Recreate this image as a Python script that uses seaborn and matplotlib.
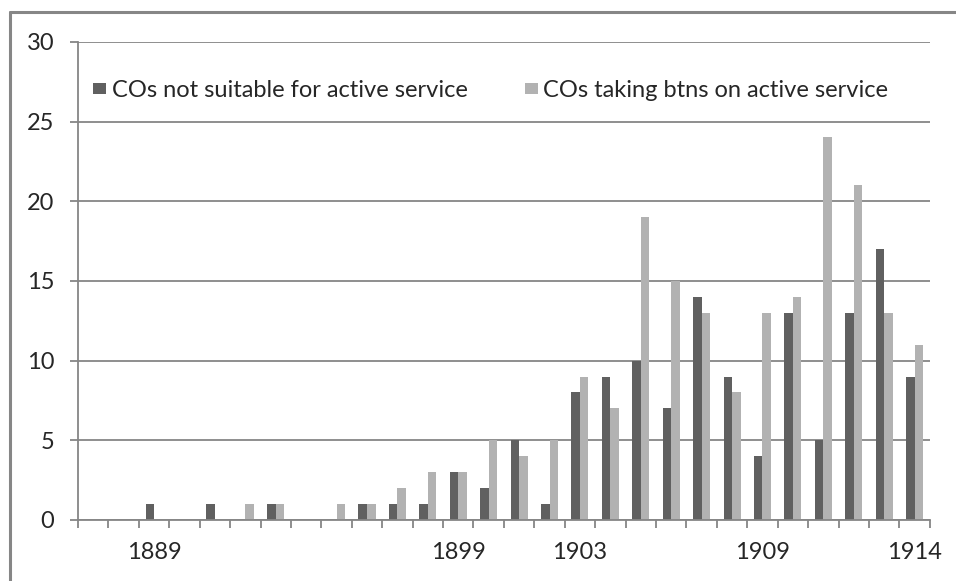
import pandas as pd
import seaborn as sns
import matplotlib.pyplot as plt
from matplotlib.lines import Line2D

years = list(range(1887, 1915))
not_suitable = [0, 0, 1, 0, 1, 0, 1, 0, 0, 1, 1, 1, 3, 2, 5, 1,
                8, 9, 10, 7, 14, 9, 4, 13, 5, 13, 17, 9]
taking_btns = [0, 0, 0, 0, 0, 1, 1, 0, 1, 1, 2, 3, 3, 5, 4, 5,
               9, 7, 19, 15, 13, 8, 13, 14, 24, 21, 13, 11]
shown_labels = ['1889', '1899', '1903', '1909', '1914']
series = ['COs not suitable for active service', 'COs taking btns on active service']
colors = ['#606060', '#b2b2b2']

df = pd.DataFrame({
    'year': [str(y) for y in years] * 2,
    'count': not_suitable + taking_btns,
    'series': [series[0]] * len(years) + [series[1]] * len(years),
})

sns.set_style('white')
plt.rcParams['font.family'] = ['Lato', 'DejaVu Sans']

fig = plt.figure(figsize=(9.56, 5.81), dpi=100)
ax = fig.add_axes([0.0816, 0.105, 0.891, 0.823])

sns.barplot(data=df, x='year', y='count', hue='series', palette=colors,
            width=0.56, ax=ax, saturation=1, linewidth=0)

grid_c = '#868686'
fs = 17
ax.set_ylim(0, 30)
ax.set_yticks(range(0, 31, 5))
ax.set_xlim(-0.5, len(years) - 0.5)
ax.yaxis.grid(True, color=grid_c, lw=1.3)
ax.set_axisbelow(True)
for s in ['top', 'right']:
    ax.spines[s].set_visible(False)
for s in ['left', 'bottom']:
    ax.spines[s].set_color(grid_c)
    ax.spines[s].set_linewidth(1.3)

# ticks at category boundaries, labels only for some years
ax.set_xticks([i - 0.5 for i in range(len(years) + 1)], minor=False)
ax.set_xticklabels([])
ax.set_xticks([years.index(int(l)) for l in shown_labels], minor=True)
ax.set_xticklabels(shown_labels, minor=True)
ax.tick_params(axis='x', which='major', length=6, width=1.3, color=grid_c,
               direction='out', bottom=True)
ax.tick_params(axis='x', which='minor', length=0, pad=16, labelsize=fs)
ax.tick_params(axis='y', length=6, width=1.3, color=grid_c, direction='out',
               left=True, labelsize=fs, pad=11)
ax.set_xlabel('')
ax.set_ylabel('')

leg = ax.legend(loc='center left', bbox_to_anchor=(-0.01, 0.898), ncol=2,
                frameon=False, fontsize=fs, handlelength=0.55, handleheight=0.38,
                handletextpad=0.25, columnspacing=2.4, borderaxespad=0.6)

# outer chart border
fig.add_artist(Line2D([9.5 / 956, 1], [1 - 11.5 / 581] * 2, color=grid_c, lw=2.2,
                      transform=fig.transFigure))
fig.add_artist(Line2D([9.5 / 956] * 2, [0, 1 - 11.5 / 581], color=grid_c, lw=2.2,
                      transform=fig.transFigure))

fig.savefig('out.png', dpi=100)
